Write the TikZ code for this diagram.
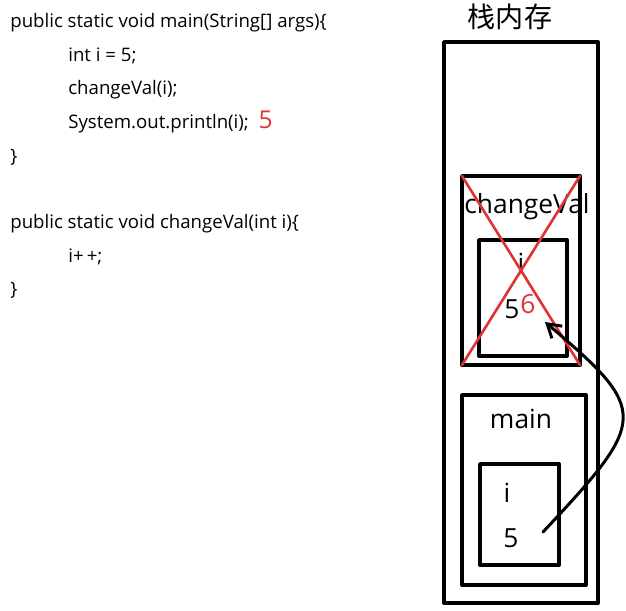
\documentclass[tikz,border=0pt]{standalone}
\usepackage{fontspec}
\setmainfont{Open Sans}
\newfontfamily\cjk{Noto Sans CJK SC}
\usetikzlibrary{arrows.meta}
\definecolor{redpen}{RGB}{222,52,52}
\begin{document}
\begin{tikzpicture}[x=0.02cm,y=-0.02cm,line join=round,line cap=round,
	>={Straight Barb[length=2.6mm,width=3.2mm]},
	code/.style={anchor=base west,inner sep=0,font=\fontsize{10.6}{13}\selectfont},
	lbl/.style={anchor=base,inner sep=0,font=\fontsize{15}{18}\selectfont},
	box/.style={line width=2.2pt},
	cross/.style={redpen,line width=1.5pt}]
	\def\ind{68}
	\useasboundingbox (0,0) rectangle (626,610);
	%Mã nguồn
	\node[code] (mainHead) at (10,27) {public static void main(String[] args)\{};
	\node[code] (mainDecl) at (\ind,61) {int i = 5;};
	\node[code] (mainCall) at (\ind,94) {changeVal(i);};
	\node[code] (mainPrint) at (\ind,128) {System.out.println(i);};
	\node[code,font=\fontsize{14}{17}\selectfont,text=redpen] (mainOut) at ([xshift=0.18cm]mainPrint.base east) {5};
	\node[code] (mainEnd) at (10,162) {\}};
	\node[code] (cvHead) at (10,228) {public static void changeVal(int i)\{};
	\node[code] (cvInc) at (\ind,262) {i+\,+;};
	\node[code] (cvEnd) at (10,295) {\}};
	%Bộ nhớ ngăn xếp
	\node[lbl,font=\cjk\fontsize{16}{18}\selectfont] (stackTitle) at (510,27) {栈内存};
	\draw[box] (444,42) rectangle (598,603);
	%Khung changeVal
	\coordinate (cvA) at (462,176);
	\coordinate (cvB) at (580,365);
	\draw[box] (cvA) rectangle (cvB);
	\draw[box] (479,240) rectangle (567,356);
	\node[lbl] (cvName) at (527,213) {changeVal};
	\node[lbl] (cvI) at (521,272) {i};
	\node[lbl] (cvOld) at (512,318) {5};
	\node[lbl,text=redpen] (cvNew) at (528,313) {6};
	\draw[cross] (cvA) -- (cvB);
	\draw[cross] (cvA |- cvB) -- (cvB |- cvA);
	%Khung main
	\draw[box] (462,395) rectangle (586,585);
	\draw[box] (480,464) rectangle (559,565);
	\node[lbl] (mName) at (521,428) {main};
	\node[lbl] (mI) at (507,502) {i};
	\node[lbl] (mVal) at (511,547) {5};
	%Mũi tên truyền giá trị
	\coordinate (passFrom) at (543,532);
	\coordinate (passTo) at (545,322);
	\draw[->,line width=1.7pt] (passFrom) .. controls (648,420) and (650,411) .. (passTo);
\end{tikzpicture}
\end{document}
